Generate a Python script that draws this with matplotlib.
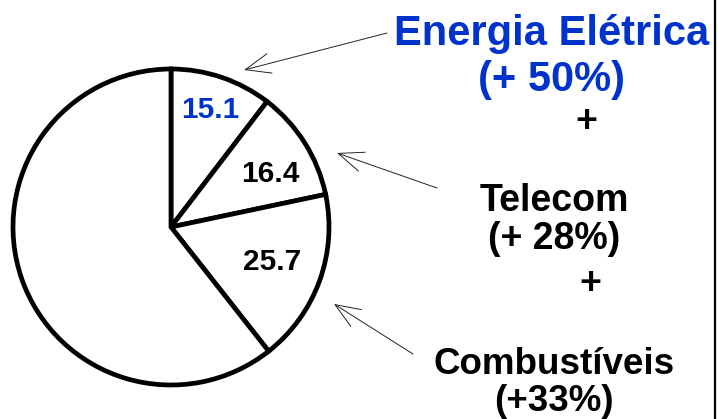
import numpy as np
import matplotlib
matplotlib.use("Agg")
import matplotlib.pyplot as plt

plt.rcParams['font.family'] = ['Liberation Sans', 'DejaVu Sans']
plt.rcParams['font.weight'] = 'bold'

# data
values = [15.1, 16.4, 25.7, 88.0]
labels = ['15.1', '16.4', '25.7', '']
label_colors = ['#0033CC', 'black', 'black', 'black']
label_dist = [0.78, 0.71, 0.68, 0.5]
label_rot = [0, -4, 1, 0]

titles = ['Energia Elétrica\n(+ 50%)', 'Telecom\n(+ 28%)', 'Combustíveis\n(+33%)']
title_colors = ['#0033CC', 'black', 'black']

W, H = 718, 419
fig = plt.figure(figsize=(W / 100, H / 100), dpi=100)
ax = fig.add_axes([0, 0, 1, 1])
ax.set_xlim(0, W)
ax.set_ylim(0, H)
ax.set_aspect('equal')
ax.axis('off')

cx, cy, r = 171, H - 227, 158
wedges, texts = ax.pie(values, labels=labels, startangle=90, counterclock=False,
                       center=(cx, cy), radius=r, labeldistance=0.7,
                       wedgeprops=dict(facecolor='white', edgecolor='black', linewidth=3.4),
                       textprops=dict(fontsize=21.5, fontweight='bold'))
for w, t, d, a, c in zip(wedges, texts, label_dist, label_rot, label_colors):
    ang = np.deg2rad((w.theta1 + w.theta2) / 2 + a)
    t.set_position((cx + d * r * np.cos(ang), cy + d * r * np.sin(ang)))
    t.set_ha('center')
    t.set_va('center')
    t.set_color(c)
ax.set_xlim(0, W)
ax.set_ylim(0, H)

# side texts
ax.text(552, H - 57, titles[0], color=title_colors[0], fontsize=30, ha='center',
        va='center', linespacing=1.2)
ax.text(554, H - 220, titles[1], color=title_colors[1], fontsize=27, ha='center',
        va='center', linespacing=1.04)
ax.text(554, H - 383, titles[2], color=title_colors[2], fontsize=26.5, ha='center',
        va='center', linespacing=1.06)
ax.text(586, H - 122, '+', fontsize=27, ha='center', va='center')
ax.text(590, H - 284, '+', fontsize=27, ha='center', va='center')

# arrows
arrows = [((387, 33), (244, 70)), ((437, 188), (337, 153)), ((413, 354), (334, 304))]
for tail, tip in arrows:
    ax.annotate('', xy=(tip[0], H - tip[1]), xytext=(tail[0], H - tail[1]),
                arrowprops=dict(arrowstyle='->, head_length=1.0, head_width=0.4',
                                color='#222222', lw=0.7, mutation_scale=18,
                                shrinkA=0, shrinkB=0))

# right border
ax.plot([715, 715], [0, H], color='black', lw=1.6)

fig.savefig('out.png', dpi=100)
